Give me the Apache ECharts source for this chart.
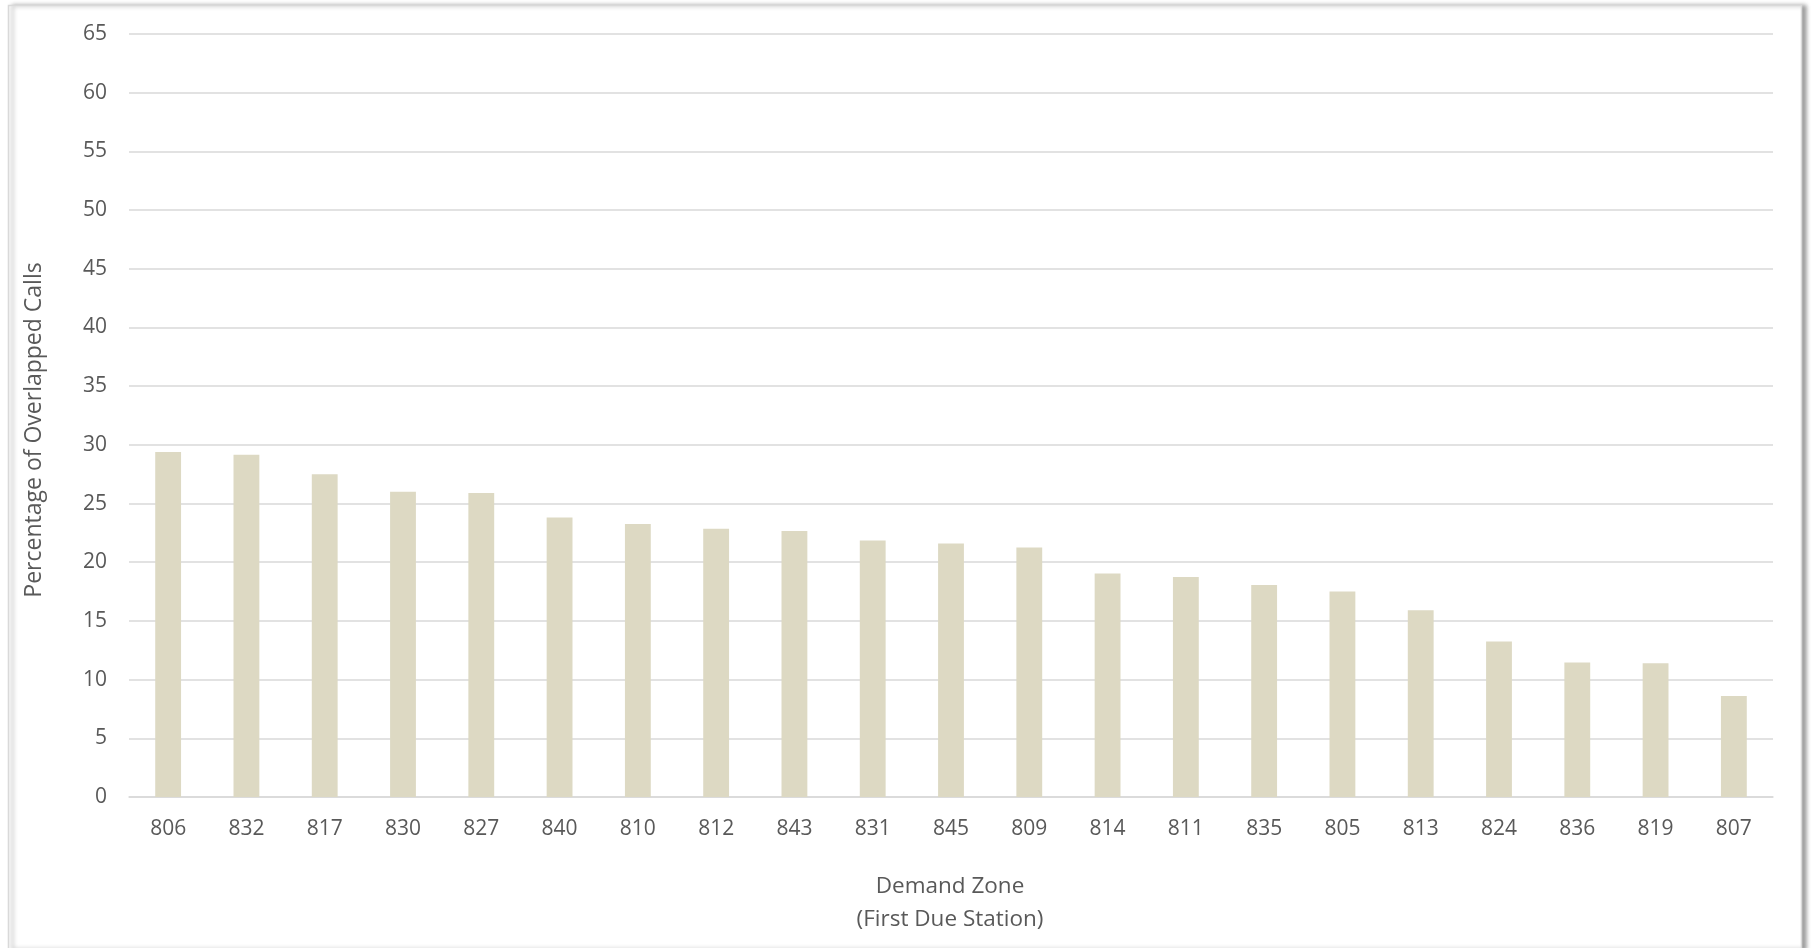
<!DOCTYPE html>
<html>
<head>
<meta charset="utf-8">
<title>Percentage of Overlapped Calls by Demand Zone</title>
<script src="https://cdn.jsdelivr.net/npm/echarts@6/dist/echarts.min.js"></script>
<style>
  html, body { margin: 0; padding: 0; background: #ffffff; }
  #chart { width: 1811px; height: 948px; }
</style>
</head>
<body>
<div id="chart"></div>
<script>
// Demand zones (first due station), sorted by share of overlapped calls
const zones = ['806', '832', '817', '830', '827', '840', '810', '812', '843', '831', '845',
               '809', '814', '811', '835', '805', '813', '824', '836', '819', '807'];
const overlapPct = [29.4, 29.15, 27.5, 26.0, 25.9, 23.8, 23.25, 22.85, 22.65, 21.85, 21.6,
                    21.25, 19.05, 18.75, 18.05, 17.5, 15.9, 13.25, 11.45, 11.4, 8.6];
const yTicks = { min: 0, max: 65, step: 5 };

const textColor = '#595959';
const gridColor = '#d9d9d9';
const fontFamily = '"Open Sans", "Noto Sans", sans-serif';

const chart = echarts.init(document.getElementById('chart'), null, { renderer: 'canvas' });

chart.setOption({
  backgroundColor: '#ffffff',
  animation: false,
  graphic: [
    {
      // chart area frame with soft shadow on the right
      type: 'rect',
      z: -10,
      shape: { x: 8.5, y: 5.5, width: 1793, height: 944 },
      style: {
        fill: '#ffffff',
        stroke: '#d9d9d9',
        lineWidth: 1.5,
        shadowBlur: 4,
        shadowOffsetX: 4,
        shadowOffsetY: 0,
        shadowColor: 'rgba(0,0,0,0.35)'
      }
    },
    {
      // category axis title, two lines
      type: 'text',
      x: 950,
      y: 870,
      z: 10,
      style: {
        text: 'Demand Zone\n(First Due Station)',
        align: 'center',
        verticalAlign: 'top',
        lineHeight: 33,
        fill: textColor,
        font: '22.5px ' + fontFamily
      }
    },
    {
      // value axis title
      type: 'text',
      x: 34,
      y: 430,
      rotation: Math.PI / 2,
      z: 10,
      style: {
        text: 'Percentage of Overlapped Calls',
        align: 'center',
        verticalAlign: 'middle',
        fill: textColor,
        font: '23px ' + fontFamily
      }
    }
  ],
  grid: { left: 129, right: 38, top: 34, bottom: 151, containLabel: false },
  xAxis: {
    type: 'category',
    data: zones,
    axisLine: { show: true, lineStyle: { color: gridColor, width: 1.5 } },
    axisTick: { show: false },
    axisLabel: { color: textColor, fontSize: 21, fontFamily: fontFamily, margin: 22 }
  },
  yAxis: {
    type: 'value',
    min: yTicks.min,
    max: yTicks.max,
    interval: yTicks.step,
    axisLine: { show: false },
    axisTick: { show: false },
    axisLabel: { color: textColor, fontSize: 21, fontFamily: fontFamily, margin: 22 },
    splitLine: { show: true, lineStyle: { color: gridColor, width: 1.5 } }
  },
  series: [{
    type: 'bar',
    data: overlapPct,
    barCategoryGap: '67%',
    itemStyle: { color: '#ddd9c3' }
  }]
});
</script>
</body>
</html>
